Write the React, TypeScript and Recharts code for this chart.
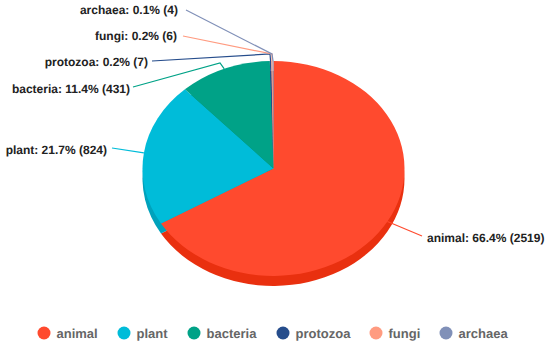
import { Legend, Pie, PieChart } from "recharts";

const names = ["animal", "plant", "bacteria", "protozoa", "fungi", "archaea"];
const counts = [2519, 824, 431, 7, 6, 4];
const colors = ["#ff4a2e", "#00bcd9", "#00a287", "#264d8c", "#ff9b80", "#8090b8"];
const sideColors = ["#e9300f", "#00a2bc", "#008a72", "#1c3c70", "#e08268", "#6b7ba0"];

const total = counts.reduce((sum, n) => sum + n, 0);
const pieData = names.map((name, i) => ({ name, value: counts[i] }));

const WIDTH = 550;
const HEIGHT = 346;
const CX = 273.5;
const CY = 168.5;
const RADIUS = 131;
const SQUASH = 0.82;
const DEPTH = 10;

// where each label sits, with the elbow of its connector: [textX, textY, elbowX, elbowY, lineEndX, lineEndY]
const labelSpots = [
  [427, 238, 422, 236, 422, 236],
  [107, 150, 112, 148, 112, 148],
  [130, 89, 220, 63, 133, 87],
  [148, 62, 270, 54, 152, 61],
  [177, 36, 272, 54, 183, 36],
  [178, 10, 272, 54, 186, 10],
];

function ellipsePoint(cx: number, cy: number, r: number, angle: number) {
  const rad = (angle * Math.PI) / 180;
  return [cx + r * Math.cos(rad), cy - r * SQUASH * Math.sin(rad)];
}

function TiltedSector(props: any) {
  const { cx, cy, outerRadius, startAngle, endAngle, fill } = props;
  const [x1, y1] = ellipsePoint(cx, cy, outerRadius, startAngle);
  const [x2, y2] = ellipsePoint(cx, cy, outerRadius, endAngle);
  const large = Math.abs(startAngle - endAngle) > 180 ? 1 : 0;
  const d = `M${cx},${cy}L${x1},${y1}A${outerRadius},${outerRadius * SQUASH} 0 ${large} 1 ${x2},${y2}Z`;
  return <path d={d} fill={fill} />;
}

function SliceLabel(props: any) {
  const { cx, cy, outerRadius, midAngle, index } = props;
  const [textX, textY, elbowX, elbowY, endX, endY] = labelSpots[index];
  const [startX, startY] = ellipsePoint(cx, cy, outerRadius, midAngle);
  const pct = ((counts[index] / total) * 100).toFixed(1);
  return (
    <g>
      <polyline
        points={`${startX},${startY} ${elbowX},${elbowY} ${endX},${endY}`}
        fill="none"
        stroke={colors[index]}
        strokeWidth={1.2}
      />
      <text
        x={textX}
        y={textY}
        dy={4}
        textAnchor={index === 0 ? "start" : "end"}
        textRendering="geometricPrecision"
        fontFamily="'Liberation Sans', Arial, sans-serif"
        fontWeight={700}
        fontSize={12}
        fill="#222"
      >
        {`${names[index]}: ${pct}% (${counts[index]})`}
      </text>
    </g>
  );
}

function LegendRow() {
  const iconX = [44, 124, 194, 283, 376, 446];
  return (
    <svg width={WIDTH} height={30} style={{ display: "block" }}>
      {names.map((name, i) => (
        <g key={name}>
          <circle cx={iconX[i]} cy={17} r={6.5} fill={colors[i]} />
          <text
            x={iconX[i] + 12.5}
            y={22}
            textRendering="geometricPrecision"
            fontFamily="'Liberation Sans', Arial, sans-serif"
            fontWeight={700}
            fontSize={13}
            fill="#666"
          >
            {name}
          </text>
        </g>
      ))}
    </svg>
  );
}

export default function App() {
  return (
    <div style={{ position: "absolute", left: 0, top: 0, background: "#fff" }}>
      <PieChart width={WIDTH} height={HEIGHT} margin={{ top: 0, right: 0, bottom: 0, left: 0 }}>
        <Pie
          data={pieData.map((d, i) => ({ ...d, fill: sideColors[i] }))}
          dataKey="value"
          nameKey="name"
          cx={CX}
          cy={CY + DEPTH}
          outerRadius={RADIUS}
          startAngle={90}
          endAngle={-270}
          stroke="none"
          legendType="none"
          label={false}
          labelLine={false}
          shape={TiltedSector}
          isAnimationActive={false}
        />
        <Pie
          data={pieData.map((d, i) => ({ ...d, fill: colors[i] }))}
          dataKey="value"
          nameKey="name"
          cx={CX}
          cy={CY}
          outerRadius={RADIUS}
          startAngle={90}
          endAngle={-270}
          stroke="none"
          label={SliceLabel}
          labelLine={false}
          shape={TiltedSector}
          isAnimationActive={false}
        />
        <Legend
          content={LegendRow}
          layout="horizontal"
          verticalAlign="bottom"
          wrapperStyle={{ left: 0, bottom: 0, width: WIDTH }}
        />
      </PieChart>
    </div>
  );
}
